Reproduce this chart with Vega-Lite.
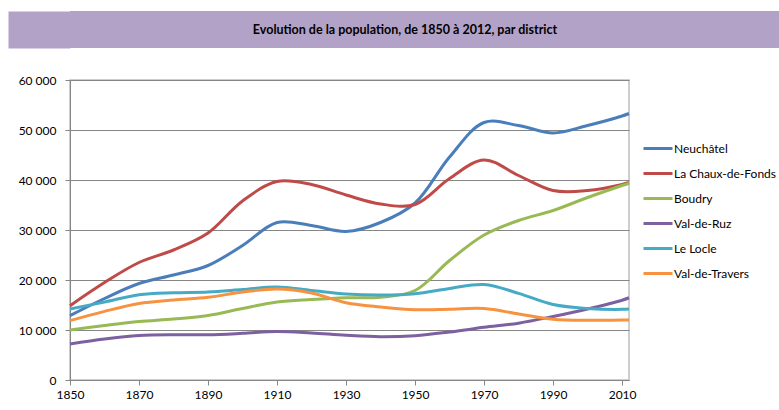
{
  "$schema": "https://vega.github.io/schema/vega-lite/v6.json",
  "padding": {"left": 7, "top": 11, "right": 0, "bottom": 0},
  "background": "white",
  "bounds": "full",
  "spacing": 25,
  "config": {"font": "Lato", "view": {"stroke": null}},
  "vconcat": [
    {
      "width": 732,
      "height": 37,
      "view": {"fill": "#B3A2C7", "stroke": null},
      "data": {"values": [{"t": "Evolution de la population, de 1850 à 2012, par district"}]},
      "mark": {"type": "text", "font": "Lato", "fontSize": 12.5, "fontWeight": "bold", "color": "#000000", "align": "center", "baseline": "middle", "dx": -31},
      "encoding": {
        "text": {"field": "t", "type": "nominal"},
        "y": {"field": "t", "type": "nominal",
          "axis": {"title": null, "labels": false, "ticks": false, "grid": false,
                   "domainColor": "#B3A2C7", "domainWidth": 62, "offset": 31}}
      }
    },
    {
      "width": 559,
      "height": 300,
      "view": {"stroke": "#BFBFBF", "strokeWidth": 1.5},
      "data": {"values": [
        {"district": "Neuchâtel", "year": 1850, "population": 12870},
        {"district": "Neuchâtel", "year": 1860, "population": 16300},
        {"district": "Neuchâtel", "year": 1870, "population": 19300},
        {"district": "Neuchâtel", "year": 1880, "population": 21000},
        {"district": "Neuchâtel", "year": 1890, "population": 22900},
        {"district": "Neuchâtel", "year": 1900, "population": 26900},
        {"district": "Neuchâtel", "year": 1910, "population": 31500},
        {"district": "Neuchâtel", "year": 1920, "population": 30900},
        {"district": "Neuchâtel", "year": 1930, "population": 29700},
        {"district": "Neuchâtel", "year": 1940, "population": 31500},
        {"district": "Neuchâtel", "year": 1950, "population": 35400},
        {"district": "Neuchâtel", "year": 1960, "population": 44600},
        {"district": "Neuchâtel", "year": 1970, "population": 51500},
        {"district": "Neuchâtel", "year": 1980, "population": 50900},
        {"district": "Neuchâtel", "year": 1990, "population": 49400},
        {"district": "Neuchâtel", "year": 2000, "population": 50900},
        {"district": "Neuchâtel", "year": 2010, "population": 52800},
        {"district": "Neuchâtel", "year": 2012, "population": 53300},
        {"district": "La Chaux-de-Fonds", "year": 1850, "population": 14870},
        {"district": "La Chaux-de-Fonds", "year": 1860, "population": 19500},
        {"district": "La Chaux-de-Fonds", "year": 1870, "population": 23500},
        {"district": "La Chaux-de-Fonds", "year": 1880, "population": 26000},
        {"district": "La Chaux-de-Fonds", "year": 1890, "population": 29400},
        {"district": "La Chaux-de-Fonds", "year": 1900, "population": 35800},
        {"district": "La Chaux-de-Fonds", "year": 1910, "population": 39700},
        {"district": "La Chaux-de-Fonds", "year": 1920, "population": 39100},
        {"district": "La Chaux-de-Fonds", "year": 1930, "population": 37000},
        {"district": "La Chaux-de-Fonds", "year": 1940, "population": 35200},
        {"district": "La Chaux-de-Fonds", "year": 1950, "population": 35100},
        {"district": "La Chaux-de-Fonds", "year": 1960, "population": 40300},
        {"district": "La Chaux-de-Fonds", "year": 1970, "population": 44000},
        {"district": "La Chaux-de-Fonds", "year": 1980, "population": 40900},
        {"district": "La Chaux-de-Fonds", "year": 1990, "population": 37900},
        {"district": "La Chaux-de-Fonds", "year": 2000, "population": 37900},
        {"district": "La Chaux-de-Fonds", "year": 2010, "population": 39100},
        {"district": "La Chaux-de-Fonds", "year": 2012, "population": 39500},
        {"district": "Boudry", "year": 1850, "population": 10000},
        {"district": "Boudry", "year": 1860, "population": 10900},
        {"district": "Boudry", "year": 1870, "population": 11700},
        {"district": "Boudry", "year": 1880, "population": 12200},
        {"district": "Boudry", "year": 1890, "population": 12900},
        {"district": "Boudry", "year": 1900, "population": 14300},
        {"district": "Boudry", "year": 1910, "population": 15600},
        {"district": "Boudry", "year": 1920, "population": 16100},
        {"district": "Boudry", "year": 1930, "population": 16450},
        {"district": "Boudry", "year": 1940, "population": 16550},
        {"district": "Boudry", "year": 1950, "population": 17900},
        {"district": "Boudry", "year": 1960, "population": 23900},
        {"district": "Boudry", "year": 1970, "population": 29000},
        {"district": "Boudry", "year": 1980, "population": 31900},
        {"district": "Boudry", "year": 1990, "population": 33900},
        {"district": "Boudry", "year": 2000, "population": 36500},
        {"district": "Boudry", "year": 2010, "population": 38900},
        {"district": "Boudry", "year": 2012, "population": 39350},
        {"district": "Val-de-Ruz", "year": 1850, "population": 7200},
        {"district": "Val-de-Ruz", "year": 1860, "population": 8200},
        {"district": "Val-de-Ruz", "year": 1870, "population": 8900},
        {"district": "Val-de-Ruz", "year": 1880, "population": 9070},
        {"district": "Val-de-Ruz", "year": 1890, "population": 9050},
        {"district": "Val-de-Ruz", "year": 1900, "population": 9330},
        {"district": "Val-de-Ruz", "year": 1910, "population": 9700},
        {"district": "Val-de-Ruz", "year": 1920, "population": 9400},
        {"district": "Val-de-Ruz", "year": 1930, "population": 8950},
        {"district": "Val-de-Ruz", "year": 1940, "population": 8670},
        {"district": "Val-de-Ruz", "year": 1950, "population": 8870},
        {"district": "Val-de-Ruz", "year": 1960, "population": 9600},
        {"district": "Val-de-Ruz", "year": 1970, "population": 10530},
        {"district": "Val-de-Ruz", "year": 1980, "population": 11370},
        {"district": "Val-de-Ruz", "year": 1990, "population": 12700},
        {"district": "Val-de-Ruz", "year": 2000, "population": 14200},
        {"district": "Val-de-Ruz", "year": 2010, "population": 15950},
        {"district": "Val-de-Ruz", "year": 2012, "population": 16450},
        {"district": "Le Locle", "year": 1850, "population": 14200},
        {"district": "Le Locle", "year": 1860, "population": 15600},
        {"district": "Le Locle", "year": 1870, "population": 17050},
        {"district": "Le Locle", "year": 1880, "population": 17450},
        {"district": "Le Locle", "year": 1890, "population": 17600},
        {"district": "Le Locle", "year": 1900, "population": 18100},
        {"district": "Le Locle", "year": 1910, "population": 18600},
        {"district": "Le Locle", "year": 1920, "population": 17900},
        {"district": "Le Locle", "year": 1930, "population": 17200},
        {"district": "Le Locle", "year": 1940, "population": 17000},
        {"district": "Le Locle", "year": 1950, "population": 17250},
        {"district": "Le Locle", "year": 1960, "population": 18300},
        {"district": "Le Locle", "year": 1970, "population": 19100},
        {"district": "Le Locle", "year": 1980, "population": 17330},
        {"district": "Le Locle", "year": 1990, "population": 15100},
        {"district": "Le Locle", "year": 2000, "population": 14300},
        {"district": "Le Locle", "year": 2010, "population": 14130},
        {"district": "Le Locle", "year": 2012, "population": 14200},
        {"district": "Val-de-Travers", "year": 1850, "population": 11870},
        {"district": "Val-de-Travers", "year": 1860, "population": 13730},
        {"district": "Val-de-Travers", "year": 1870, "population": 15300},
        {"district": "Val-de-Travers", "year": 1880, "population": 16000},
        {"district": "Val-de-Travers", "year": 1890, "population": 16530},
        {"district": "Val-de-Travers", "year": 1900, "population": 17600},
        {"district": "Val-de-Travers", "year": 1910, "population": 18200},
        {"district": "Val-de-Travers", "year": 1920, "population": 17400},
        {"district": "Val-de-Travers", "year": 1930, "population": 15450},
        {"district": "Val-de-Travers", "year": 1940, "population": 14600},
        {"district": "Val-de-Travers", "year": 1950, "population": 14050},
        {"district": "Val-de-Travers", "year": 1960, "population": 14170},
        {"district": "Val-de-Travers", "year": 1970, "population": 14300},
        {"district": "Val-de-Travers", "year": 1980, "population": 13200},
        {"district": "Val-de-Travers", "year": 1990, "population": 12150},
        {"district": "Val-de-Travers", "year": 2000, "population": 11930},
        {"district": "Val-de-Travers", "year": 2010, "population": 12000},
        {"district": "Val-de-Travers", "year": 2012, "population": 12000}
      ]},
      "mark": {"type": "line", "interpolate": "catmull-rom", "strokeWidth": 3},
      "encoding": {
        "x": {
          "field": "year", "type": "quantitative",
          "scale": {"domain": [1850, 2012], "nice": false, "zero": false},
          "axis": {
            "title": null, "values": [1850, 1870, 1890, 1910, 1930, 1950, 1970, 1990, 2010],
            "format": "d", "grid": false, "labelFlush": false,
            "domainColor": "#868686", "tickColor": "#868686", "tickSize": 5,
            "labelFont": "Lato", "labelFontSize": 12, "labelColor": "#000000", "labelPadding": 4
          }
        },
        "y": {
          "field": "population", "type": "quantitative",
          "scale": {"domain": [0, 60000], "nice": false},
          "axis": {
            "title": null, "values": [0, 10000, 20000, 30000, 40000, 50000, 60000],
            "labelExpr": "replace(format(datum.value, ','), ',', ' ')",
            "labelFlush": false, "minExtent": 62,
            "gridColor": "#868686", "gridWidth": 1,
            "domainColor": "#868686", "tickColor": "#868686", "tickSize": 5,
            "labelFont": "Lato", "labelFontSize": 12, "labelColor": "#000000", "labelPadding": 9
          }
        },
        "color": {
          "field": "district", "type": "nominal",
          "scale": {
            "domain": ["Neuchâtel", "La Chaux-de-Fonds", "Boudry", "Val-de-Ruz", "Le Locle", "Val-de-Travers"],
            "range": ["#4A7EBB", "#BE4B48", "#98B954", "#7D60A0", "#46AAC5", "#F69240"]
          },
          "legend": {
            "title": null, "orient": "none", "legendX": 572, "legendY": 131,
            "symbolType": "M-1,0H4.8", "symbolSize": 100, "symbolStrokeWidth": 3,
            "labelOffset": 19, "rowPadding": 12,
            "labelFont": "Lato", "labelFontSize": 12, "labelColor": "#000000", "labelLimit": 300
          }
        }
      }
    }
  ]
}
